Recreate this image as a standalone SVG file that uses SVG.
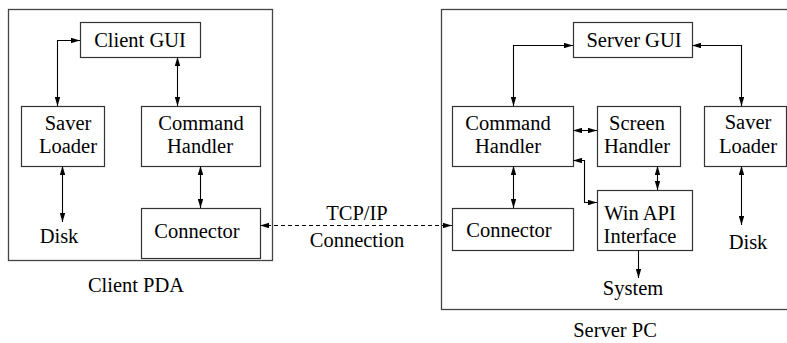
<svg xmlns="http://www.w3.org/2000/svg" width="787" height="343" viewBox="0 0 787 343">
<defs>
<marker id="ah" viewBox="0 0 10 6" refX="10" refY="3" markerWidth="9" markerHeight="5.5" markerUnits="userSpaceOnUse" orient="auto-start-reverse">
<path d="M0,0 L10,3 L0,6 Z" fill="#000"/>
</marker>
<style>
.box{fill:#fff;stroke:#333;stroke-width:1.2}
.outer{fill:none;stroke:#444;stroke-width:1.3}
.t{font-family:"Liberation Serif","Times New Roman",serif;font-size:20.5px;fill:#000;text-anchor:middle}
.c{fill:none;stroke:#000;stroke-width:1.1}
.both{marker-start:url(#ah);marker-end:url(#ah)}
.end{marker-end:url(#ah)}
.dash{stroke-dasharray:4 3}
</style>
</defs>
<rect width="787" height="343" fill="#fff"/>
<g id="client-pda">
<rect class="outer" x="8.5" y="9.5" width="264" height="251"/>
<text class="t" x="136" y="292">Client PDA</text>
</g>
<g id="server-pc">
<rect class="outer" x="441.5" y="9.5" width="360" height="300"/>
<text class="t" x="615" y="337">Server PC</text>
</g>
<g id="client-gui"><rect class="box" x="80.5" y="22.5" width="120" height="35"/><text class="t" x="140" y="47">Client GUI</text></g>
<g id="client-saver-loader"><rect class="box" x="21.5" y="106.5" width="83" height="60"/><text class="t" x="68" y="130">Saver</text><text class="t" x="68" y="153">Loader</text></g>
<g id="client-command-handler"><rect class="box" x="141.5" y="106.5" width="119" height="60"/><text class="t" x="201" y="130">Command</text><text class="t" x="200" y="153">Handler</text></g>
<g id="client-disk"><text class="t" x="59" y="243">Disk</text></g>
<g id="client-connector"><rect class="box" x="141.5" y="208.5" width="119" height="50"/><text class="t" x="197" y="238">Connector</text></g>
<g id="server-gui"><rect class="box" x="573.5" y="22.5" width="119" height="35"/><text class="t" x="634" y="47">Server GUI</text></g>
<g id="server-command-handler"><rect class="box" x="452.5" y="106.5" width="121" height="60"/><text class="t" x="508" y="130">Command</text><text class="t" x="508" y="153">Handler</text></g>
<g id="screen-handler"><rect class="box" x="597.5" y="106.5" width="83" height="60"/><text class="t" x="637" y="130">Screen</text><text class="t" x="637" y="153">Handler</text></g>
<g id="server-saver-loader"><rect class="box" x="704.5" y="106.5" width="82" height="60"/><text class="t" x="748" y="129">Saver</text><text class="t" x="748" y="153">Loader</text></g>
<g id="server-connector"><rect class="box" x="452.5" y="208.5" width="121" height="42"/><text class="t" x="509" y="237">Connector</text></g>
<g id="win-api"><rect class="box" x="597.5" y="190.5" width="95" height="60"/><text class="t" x="640" y="220">Win API</text><text class="t" x="640" y="243">Interface</text></g>
<g id="server-disk"><text class="t" x="748" y="249">Disk</text></g>
<g id="system"><text class="t" x="633" y="295">System</text></g>
<g id="tcp-label"><text class="t" x="357" y="220">TCP/IP</text><text class="t" x="357" y="247">Connection</text></g>
<g id="connectors">
<polyline class="c both" points="80,40.5 57.5,40.5 57.5,106"/>
<line class="c both" x1="177.5" y1="57" x2="177.5" y2="106"/>
<line class="c both" x1="62.5" y1="166" x2="62.5" y2="222"/>
<line class="c both" x1="200.5" y1="166" x2="200.5" y2="208"/>
<line class="c both dash" x1="260" y1="225.5" x2="452" y2="225.5"/>
<polyline class="c both" points="573,45.5 513.5,45.5 513.5,106"/>
<polyline class="c both" points="692,45.5 741.5,45.5 741.5,106"/>
<line class="c both" x1="573" y1="130.5" x2="597" y2="130.5"/>
<line class="c both" x1="513.5" y1="166" x2="513.5" y2="208"/>
<line class="c both" x1="657.5" y1="166" x2="657.5" y2="190"/>
<line class="c both" x1="741.5" y1="166" x2="741.5" y2="225"/>
<polyline class="c both" points="573,160.5 584.5,160.5 584.5,202.5 597,202.5"/>
<line class="c end" x1="638.5" y1="250" x2="638.5" y2="278"/>
</g>
</svg>
